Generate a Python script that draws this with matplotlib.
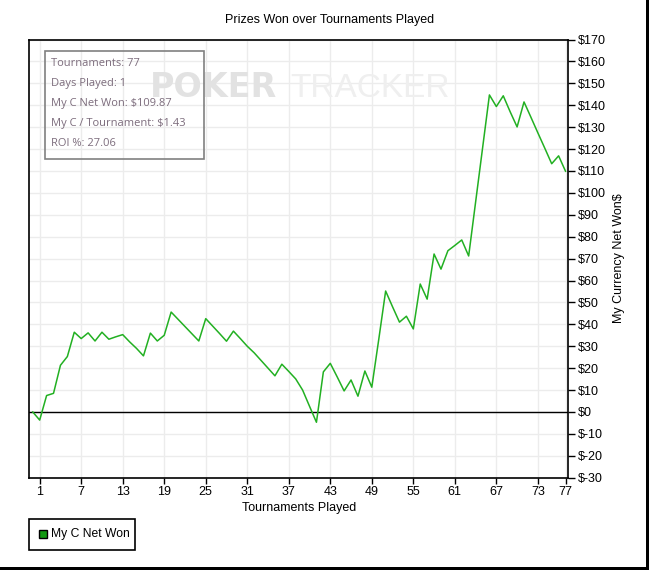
import matplotlib
matplotlib.use('Agg')
import matplotlib.pyplot as plt
from matplotlib.patches import Rectangle

# cumulative net won after each tournament (t=0 is the starting point)
tournaments = list(range(0, 78))
net_won = [0.0, -3.7, 7.5, 8.5, 21.3, 25.3, 36.4, 33.5, 36.1, 32.4,
           36.4, 33.2, 34.3, 35.3, 32.0, 29.0, 25.6, 36.0, 32.4, 35.0,
           45.6, 42.3, 39.0, 35.7, 32.4, 42.6, 39.2, 35.8, 32.3, 36.9,
           33.5, 30.0, 27.0, 23.5, 20.0, 16.5, 21.8, 18.5, 15.1, 10.0,
           2.6, -4.7, 18.3, 22.2, 16.0, 9.6, 14.6, 7.2, 18.7, 11.3,
           33.0, 55.2, 48.0, 41.0, 43.7, 37.9, 58.4, 51.5, 72.1, 65.2,
           73.6, 76.0, 78.5, 71.2, 95.7, 120.2, 144.7, 139.4, 144.3, 137.0,
           130.1, 141.5, 134.5, 127.4, 120.4, 113.3, 116.9, 109.87]
x_ticks = [1, 7, 13, 19, 25, 31, 37, 43, 49, 55, 61, 67, 73, 77]
y_ticks = list(range(-30, 171, 10))
info_lines = ['Tournaments: 77', 'Days Played: 1', 'My C Net Won: $109.87',
              'My C / Tournament: $1.43', 'ROI %: 27.06']

plt.rcParams['font.family'] = ['Liberation Sans', 'DejaVu Sans']
W, H = 649, 570
fig = plt.figure(figsize=(W / 100, H / 100), dpi=100)
fig.patch.set_facecolor('white')


def px(x, y):
    # pixel position from the top-left corner -> figure fraction
    return x / W, 1 - y / H


ax = fig.add_axes([29.3 / W, 1 - 477.7 / H, (568.3 - 29.3) / W, (477.7 - 39.5) / H])
ax.plot(tournaments, net_won, color='#22b022', linewidth=1.1, zorder=3)
ax.axhline(0, color='black', linewidth=1.0, zorder=2)

ax.set_xlim(-0.5, 77.4)
ax.set_ylim(-30, 170)
ax.set_xticks(x_ticks)
ax.set_yticks(y_ticks)
ax.set_yticklabels([f'${v}' for v in y_ticks])
ax.yaxis.tick_right()
ax.yaxis.set_label_position('right')
ax.tick_params(axis='both', labelsize=9, length=4, width=1, color='black', pad=2)
ax.tick_params(axis='y', length=5)
ax.grid(True, color='#ececec', linewidth=1, zorder=0)
ax.set_axisbelow(True)
for s in ax.spines.values():
    s.set_linewidth(1.2)
    s.set_color('black')

ax.set_xlabel('Tournaments Played', fontsize=9, labelpad=3)
ax.set_ylabel('My Currency Net Won$', fontsize=9, labelpad=5)
fig.text(*px(330, 20), 'Prizes Won over Tournaments Played', fontsize=9,
         ha='center', va='center')

# watermark
ax.text(*px(150, 97), 'POKER', transform=fig.transFigure, fontsize=24,
        fontweight='bold', family='DejaVu Sans', color='#e2e2e2',
        va='baseline', ha='left', zorder=1)
ax.text(*px(290, 97), 'TRACKER', transform=fig.transFigure, fontsize=24,
        color='#efefef', va='baseline', ha='left', zorder=1)

# info box (transparent, grid shows through)
box = Rectangle(px(45, 159.3), (203.5 - 45) / W, (159.3 - 50.7) / H,
                transform=fig.transFigure, facecolor='none', edgecolor='#808080',
                linewidth=1.2, zorder=5)
fig.patches.append(box)
for i, line in enumerate(info_lines):
    fig.text(*px(51, 63.3 + 20 * i), line, fontsize=8, color='#7c6c7c',
             va='center', ha='left', family=['Open Sans', 'DejaVu Sans'], zorder=6)

# legend
leg_box = Rectangle(px(29.3, 550.3), (135.3 - 29.3) / W, (550.3 - 519.3) / H,
                    transform=fig.transFigure, facecolor='white', edgecolor='black',
                    linewidth=1.2)
fig.patches.append(leg_box)
sq = Rectangle(px(38.5, 538), 8 / W, 8 / H, transform=fig.transFigure,
               facecolor='#119911', edgecolor='black', linewidth=1)
fig.patches.append(sq)
fig.text(*px(51.5, 534.5), 'My C Net Won', fontsize=8.7, va='center', ha='left')

# window frame edges
fig.patches.append(Rectangle((645.5 / W, 0), 3.5 / W, 1, transform=fig.transFigure,
                             facecolor='black', edgecolor='none'))
fig.patches.append(Rectangle((0, 0), 1, 3.5 / H, transform=fig.transFigure,
                             facecolor='black', edgecolor='none'))

fig.savefig('out.png', dpi=100, facecolor='white')
